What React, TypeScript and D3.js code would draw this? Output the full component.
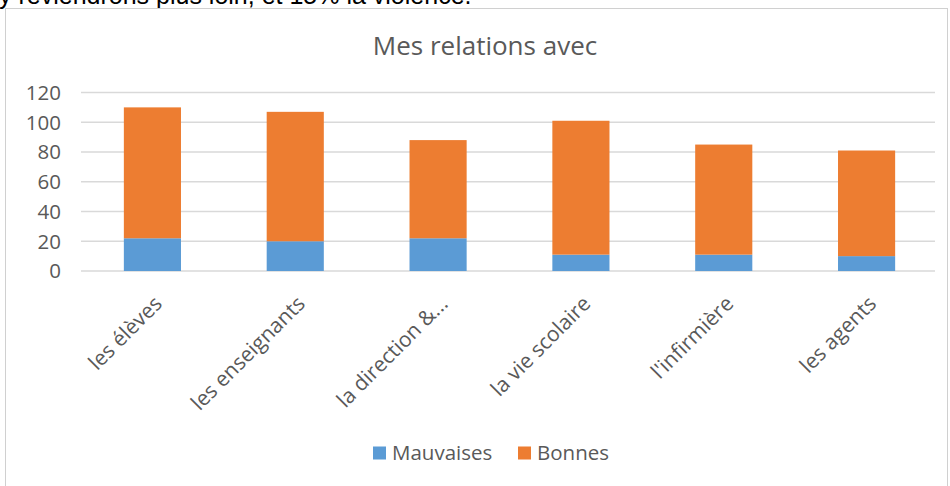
import React from "react";
import * as d3 from "d3";

const categories = ["les élèves", "les enseignants", "la direction &...", "la vie scolaire", "l'infirmière", "les agents"];
const mauvaises = [22, 20, 22, 11, 11, 10];
const bonnes = [88, 87, 66, 90, 74, 71];
const yTicks = [0, 20, 40, 60, 80, 100, 120];
const seriesNames = ["Mauvaises", "Bonnes"];
const seriesColors = ["#5B9BD5", "#ED7D31"];

const W = 950;
const H = 486;
const plot = { left: 81, right: 938, top: 92.5, bottom: 271 };

export default function App() {
  const x = d3.scaleBand<string>().domain(categories).range([plot.left, plot.right]).paddingInner(0.6).paddingOuter(0.3);
  const y = d3.scaleLinear().domain([0, 120]).range([plot.bottom, plot.top]);
  const rows = categories.map((c, i) => ({ cat: c, Mauvaises: mauvaises[i], Bonnes: bonnes[i] }));
  const stack = d3.stack<any>().keys(seriesNames)(rows);
  const font = "'Open Sans', sans-serif";
  const grey = "#595959";
  return (
    <svg width={W} height={H} style={{ position: "absolute", left: 0, top: 0, background: "#fff" }}>
      <text x={-1} y={4} fontFamily="'Liberation Sans', Arial, sans-serif" fontSize={25} fill="#000">
        y reviendrons plus loin, et 15% la violence.
      </text>
      <rect x={5.5} y={8.5} width={942} height={490} fill="#fff" stroke="#D0D0D0" strokeWidth={1} />
      <text x={485} y={55} textAnchor="middle" fontFamily={font} fontSize={26} fill={grey}>
        Mes relations avec
      </text>
      {yTicks.map((t) => (
        <g key={t}>
          <line x1={plot.left} x2={plot.right - 3} y1={y(t)} y2={y(t)} stroke="#D9D9D9" strokeWidth={1.5} />
          <text x={61} y={y(t)} dy="0.36em" textAnchor="end" fontFamily={font} fontSize={20.5} fill={grey}>
            {t}
          </text>
        </g>
      ))}
      {stack.map((s, si) => (
        <g key={s.key} fill={seriesColors[si]}>
          {s.map((d, i) => (
            <rect key={i} x={x(categories[i])} width={x.bandwidth()} y={y(d[1])} height={y(d[0]) - y(d[1])} />
          ))}
        </g>
      ))}
      {categories.map((c) => {
        const cx = (x(c) as number) + x.bandwidth() / 2 + 11;
        return (
          <text key={c} transform={`translate(${cx},${plot.bottom + 34}) rotate(-45)`} textAnchor="end" fontFamily={font} fontSize={21} fill={grey}>
            {c}
          </text>
        );
      })}
      {seriesNames.map((n, i) => {
        const lx = [373, 518][i];
        return (
          <g key={n}>
            <rect x={lx} y={446.5} width={13} height={13} fill={seriesColors[i]} />
            <text x={lx + 19} y={459.5} fontFamily={font} fontSize={20.5} fill={grey}>
              {n}
            </text>
          </g>
        );
      })}
    </svg>
  );
}
